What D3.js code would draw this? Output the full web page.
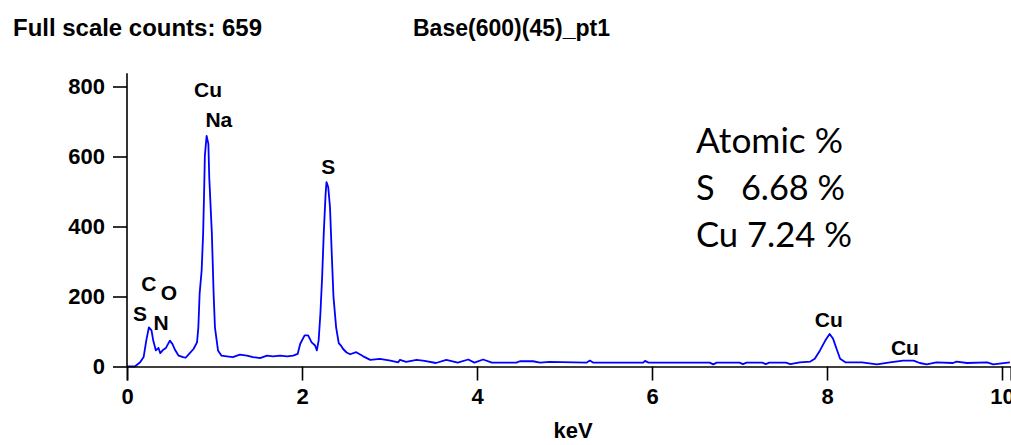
<!DOCTYPE html>
<html>
<head>
<meta charset="utf-8">
<script src="https://cdn.jsdelivr.net/npm/d3@7"></script>
<style>
  body { margin: 0; background: #fff; }
  svg { display: block; }
</style>
</head>
<body>
<div id="chart"></div>
<script>
// spectrum (keV, counts)
const energy = [
  0.00, 0.09, 0.15, 0.19, 0.22, 0.25, 0.28, 0.30, 0.33, 0.36, 0.38, 0.41, 0.445, 0.49, 0.52, 0.55,
  0.59, 0.64, 0.67, 0.71, 0.76, 0.80, 0.815, 0.83, 0.853, 0.87, 0.88, 0.89, 0.91, 0.93, 0.94, 0.97,
  0.99, 1.005, 1.04, 1.08, 1.14, 1.21, 1.29, 1.37, 1.44, 1.52, 1.60, 1.67, 1.75, 1.83, 1.90, 1.95,
  1.98, 2.03, 2.07, 2.11, 2.15, 2.17, 2.19, 2.21, 2.23, 2.25, 2.27, 2.28, 2.30, 2.32, 2.34, 2.36,
  2.39, 2.42, 2.45, 2.47, 2.51, 2.55, 2.62, 2.70, 2.78, 2.89, 3.01, 3.10, 3.12, 3.19, 3.31, 3.40,
  3.53, 3.65, 3.78, 3.90, 3.97, 4.07, 4.17, 4.45, 4.49, 4.64, 4.72, 4.83, 5.25, 5.29, 5.33, 5.90,
  5.92, 5.96, 6.66, 6.70, 6.74, 7.00, 7.04, 7.08, 7.26, 7.30, 7.34, 7.53, 7.58, 7.69, 7.81, 7.86,
  7.92, 7.98, 8.03, 8.07, 8.11, 8.15, 8.21, 8.40, 8.57, 8.72, 8.87, 8.99, 9.06, 9.14, 9.25, 9.44,
  9.48, 9.60, 9.83, 9.90, 10.09
];
const counts = [
  0, 0, 12, 27, 74, 112, 103, 74, 46, 53, 38, 47, 53, 74, 64, 47,
  31, 27, 25, 36, 50, 69, 110, 208, 274, 379, 484, 603, 659, 636, 541, 379,
  208, 112, 46, 31, 29, 27, 34, 31, 27, 24, 31, 29, 31, 29, 31, 36,
  65, 89, 89, 69, 60, 46, 74, 150, 255, 389, 494, 527, 512, 455, 322, 198,
  112, 67, 58, 50, 40, 35, 41, 29, 19, 22, 17, 12, 19, 13, 19, 16,
  10, 19, 11, 20, 11, 20, 11, 11, 15, 15, 11, 13, 11, 17, 11, 11,
  16, 11, 11, 6, 11, 11, 7, 11, 11, 7, 11, 11, 7, 12, 14, 22,
  46, 74, 93, 79, 50, 22, 12, 12, 6, 12, 17, 17, 10, 6, 12, 10,
  14, 10, 12, 6, 12
];

// element labels placed at (keV, counts)
const labelText = ["Cu", "Na", "S", "C", "O", "S", "N", "Cu", "Cu"];
const labelKeV = [0.926, 1.05, 2.30, 0.25, 0.48, 0.15, 0.39, 8.02, 8.89];
const labelCounts = [769, 683, 549, 217, 189, 131, 103, 114, 34];

const xTicks = [0, 2, 4, 6, 8, 10];
const yTicks = [0, 200, 400, 600, 800];

const headerLeft = "Full scale counts: 659";
const headerRight = "Base(600)(45)_pt1";
const xLabel = "keV";
const atomicLines = ["Atomic %", "S   6.68 %", "Cu 7.24 %"];

const width = 1011, height = 445;
const labelFont = "'Liberation Sans', Arial, sans-serif";

const svg = d3.select("#chart").append("svg")
  .attr("width", width)
  .attr("height", height);

const x = d3.scaleLinear().domain([0, 10.1]).range([127, 1010.75]);
const y = d3.scaleLinear().domain([0, 800]).range([366.5, 86.5]);

// header texts
svg.append("text")
  .attr("x", 13).attr("y", 36)
  .attr("textLength", 249).attr("lengthAdjust", "spacingAndGlyphs")
  .style("font-family", labelFont).style("font-weight", "bold").style("font-size", "23px")
  .text(headerLeft);

svg.append("text")
  .attr("x", 413).attr("y", 36)
  .attr("textLength", 197).attr("lengthAdjust", "spacingAndGlyphs")
  .style("font-family", labelFont).style("font-weight", "bold").style("font-size", "23px")
  .text(headerRight);

// spectrum line
const line = d3.line()
  .x(i => x(energy[i]))
  .y(i => y(counts[i]));

svg.append("path")
  .datum(d3.range(energy.length))
  .attr("d", line)
  .attr("fill", "none")
  .attr("stroke", "#0000ff")
  .attr("stroke-width", 1.8)
  .attr("stroke-linejoin", "round");

// axes
const xAxis = svg.append("g")
  .attr("transform", `translate(0,${y(0)})`)
  .call(d3.axisBottom(x).tickValues(xTicks).tickSize(14).tickPadding(8));

const yAxis = svg.append("g")
  .attr("transform", `translate(${x(0)},0)`)
  .call(d3.axisLeft(y).tickValues(yTicks).tickSize(14).tickPadding(8));
yAxis.select(".domain").remove();

// y axis line runs a bit above the top tick
svg.append("line")
  .attr("x1", x(0)).attr("x2", x(0))
  .attr("y1", y(0)).attr("y2", y(838))
  .attr("stroke", "#000").attr("stroke-width", 1.6);

[xAxis, yAxis].forEach(g => {
  g.selectAll("path, line").attr("stroke", "#000").attr("stroke-width", 1.6);
  g.selectAll("text")
    .attr("fill", "#000")
    .style("font-family", labelFont)
    .style("font-weight", "bold")
    .style("font-size", "22px");
});

svg.append("text")
  .attr("x", 573).attr("y", 438)
  .attr("text-anchor", "middle")
  .style("font-family", labelFont).style("font-weight", "bold").style("font-size", "22px")
  .text(xLabel);

// element labels
svg.append("g")
  .selectAll("text")
  .data(labelText)
  .join("text")
  .attr("x", (d, i) => x(labelKeV[i]))
  .attr("y", (d, i) => y(labelCounts[i]))
  .attr("text-anchor", "middle")
  .style("font-family", labelFont)
  .style("font-weight", "bold")
  .style("font-size", "21px")
  .text(d => d);

// atomic % box text
const atomicWidths = [147, 149, 156];
svg.append("g")
  .selectAll("text")
  .data(atomicLines)
  .join("text")
  .attr("x", 696)
  .attr("y", (d, i) => 153 + i * 47)
  .attr("textLength", (d, i) => atomicWidths[i])
  .attr("lengthAdjust", "spacingAndGlyphs")
  .style("white-space", "pre")
  .style("font-family", "Lato, 'Open Sans', sans-serif")
  .style("font-size", "35px")
  .attr("fill", "#000")
  .text(d => d);
</script>
</body>
</html>
